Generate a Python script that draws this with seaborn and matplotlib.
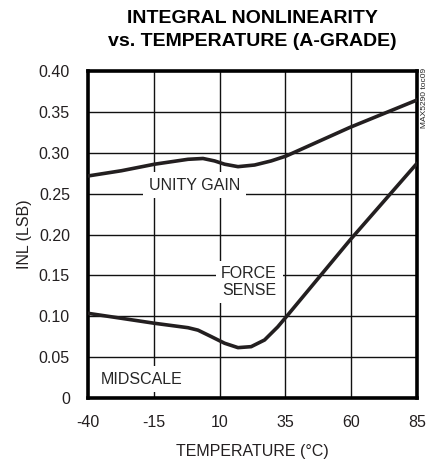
import pandas as pd
import seaborn as sns
import matplotlib.pyplot as plt

# data
unity_temp = [-40, -27.3, -14.7, -2, 3.7, 8.1, 11.9, 17, 23.3, 29.6, 35.3, 59.5, 85]
unity_inl = [0.2716, 0.278, 0.286, 0.292, 0.293, 0.290, 0.286, 0.283, 0.285, 0.290,
             0.296, 0.331, 0.3645]

force_temp = [-40, -27.3, -14.7, -2, 1.8, 6.9, 11.9, 17, 22, 27.1, 32.1, 35.9, 59.5, 85]
force_inl = [0.1036, 0.0975, 0.0914, 0.086, 0.083, 0.075, 0.067, 0.0616, 0.0628, 0.071,
             0.087, 0.1015, 0.193, 0.287]

xticks = [-40, -15, 10, 35, 60, 85]
yticks = [0, 0.05, 0.10, 0.15, 0.20, 0.25, 0.30, 0.35, 0.40]
yticklabels = ['0', '0.05', '0.10', '0.15', '0.20', '0.25', '0.30', '0.35', '0.40']

df_unity = pd.DataFrame({'temp': unity_temp, 'inl': unity_inl})
df_force = pd.DataFrame({'temp': force_temp, 'inl': force_inl})

sns.set_style('white')
plt.rcParams['font.family'] = ['Liberation Sans', 'DejaVu Sans']
plt.rcParams['axes.unicode_minus'] = False

fig = plt.figure(figsize=(4.41, 4.59), dpi=100)
ax = fig.add_axes([0.1995, 0.1329, 0.746, 0.7124])

# grid
for x in xticks[1:-1]:
    ax.axvline(x, color='#111111', lw=1.0, zorder=1)
for y in yticks[1:-1]:
    ax.axhline(y, color='#111111', lw=1.0, zorder=1)

sns.lineplot(data=df_unity, x='temp', y='inl', color='#231f20', lw=2.6, ax=ax, zorder=3,
             solid_joinstyle='round')
sns.lineplot(data=df_force, x='temp', y='inl', color='#231f20', lw=2.6, ax=ax, zorder=3,
             solid_joinstyle='round')

box = dict(facecolor='white', edgecolor='none', pad=4)
ax.text(0.4, 0.2605, 'UNITY GAIN', ha='center', va='center', fontsize=11.5, bbox=box, zorder=2)
ax.text(21.2, 0.142, 'FORCE\nSENSE', ha='center', va='center', fontsize=11.5,
        linespacing=1.1, bbox=box, zorder=2)
ax.text(-19.7, 0.023, 'MIDSCALE', ha='center', va='center', fontsize=11.5, bbox=box, zorder=2)

ax.set_xlim(-40, 85)
ax.set_ylim(0, 0.40)
ax.set_xticks(xticks)
ax.set_yticks(yticks)
ax.set_yticklabels(yticklabels)
ax.tick_params(labelsize=11.5, length=0, colors='#231f20')
ax.tick_params(axis='x', pad=12)
ax.tick_params(axis='y', pad=13)
ax.set_xlabel('TEMPERATURE (°C)', fontsize=11.5, labelpad=10, color='#231f20')
ax.set_ylabel('INL (LSB)', fontsize=11.5, labelpad=5, color='#231f20')

for s in ax.spines.values():
    s.set_visible(True)
    s.set_linewidth(2.6)
    s.set_color('black')

fig.text(0.5725, 0.978, 'INTEGRAL NONLINEARITY\nvs. TEMPERATURE (A-GRADE)', ha='center', va='top',
         fontsize=14, fontweight='bold', linespacing=1.45, color='black')
fig.text(0.962, 0.852, 'MAX5290 toc09', rotation=90, ha='center', va='top', fontsize=6)

fig.savefig('out.png', dpi=100)
